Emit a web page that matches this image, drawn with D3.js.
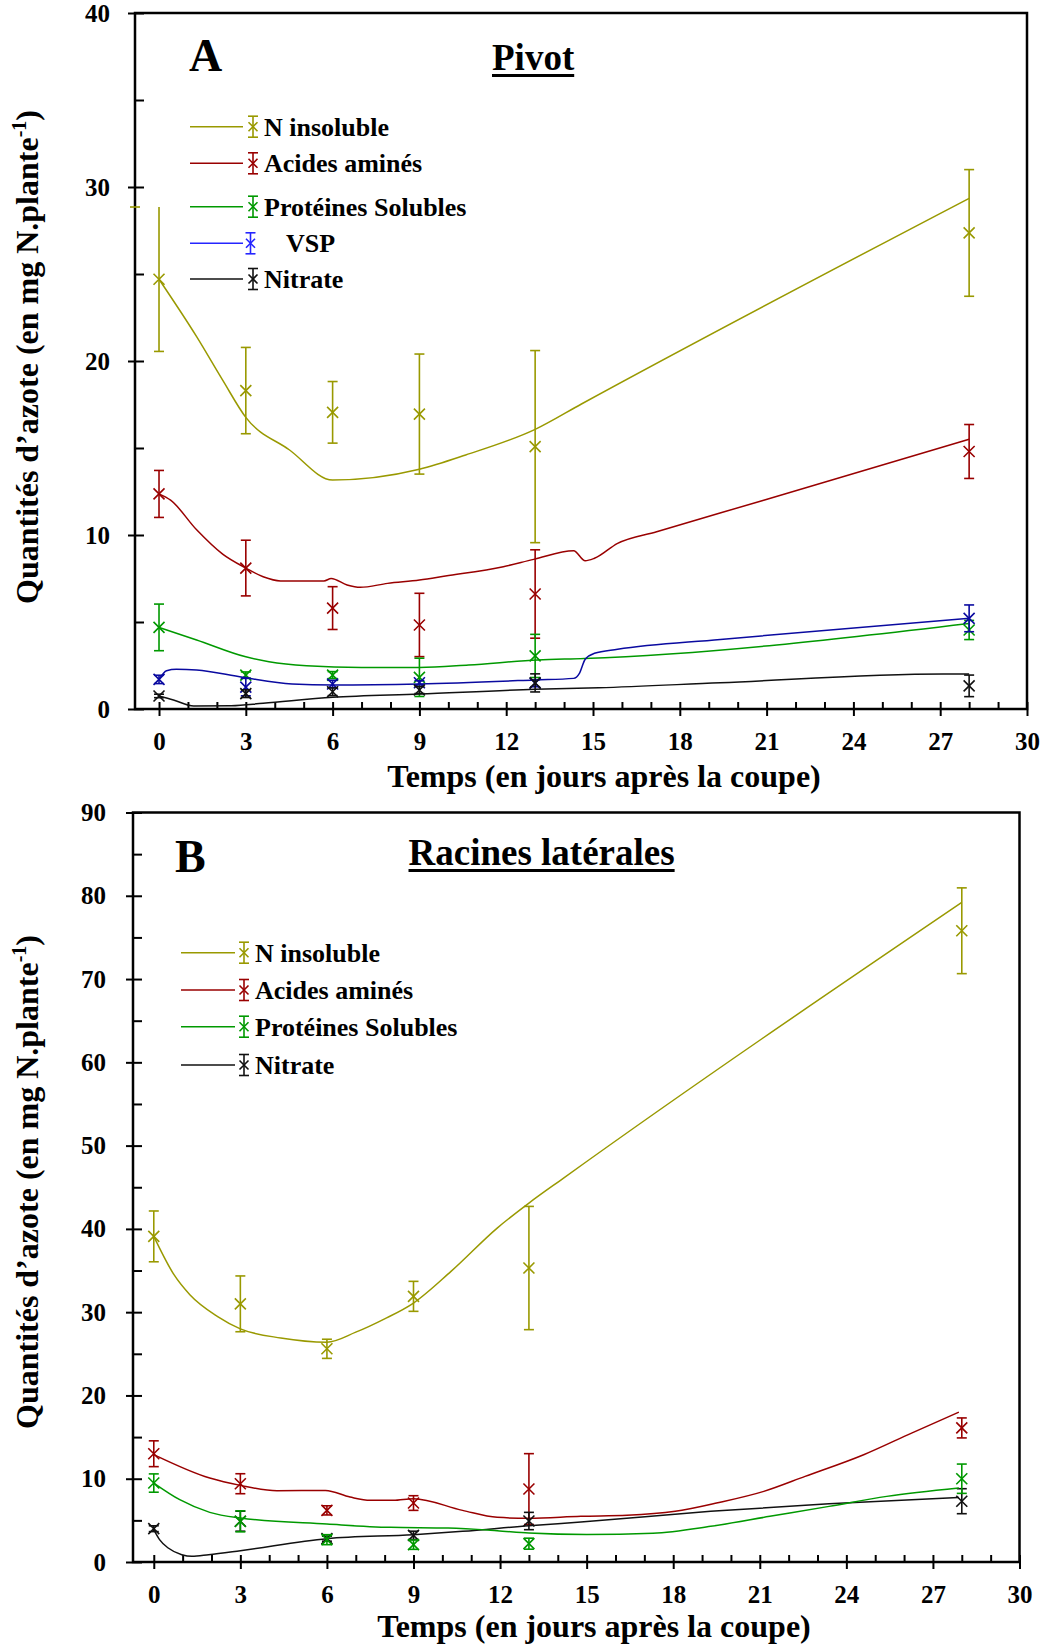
<!DOCTYPE html>
<html>
<head>
<meta charset="utf-8">
<script src="https://cdn.jsdelivr.net/npm/d3@7"></script>
<style>
  body { margin: 0; background: #fff; }
  svg text { font-family: "Liberation Serif", "Times New Roman", serif; font-weight: bold; fill: #000; }
</style>
</head>
<body>
<svg id="chart" width="1046" height="1645"></svg>
<script>
// Sampling days (jours après la coupe)
const days = [0, 3, 6, 9, 13, 28];
const xMajorTicks = [0, 3, 6, 9, 12, 15, 18, 21, 24, 27, 30];

// ---- Panel A : Pivot (mg N / plante) ----
const pivotNInsoluble      = [24.7, 18.3, 17.05, 16.95, 15.08, 27.36];
const pivotNInsolubleErr   = [4.15, 2.48, 1.77, 3.45, 5.52, 3.64];
const pivotAcides          = [12.36, 8.1, 5.8, 4.83, 6.61, 14.8];
const pivotAcidesErr       = [1.35, 1.6, 1.23, 1.82, 2.54, 1.55];
const pivotProteines       = [4.69, 1.95, 1.95, 1.82, 3.05, 4.54];
const pivotProteinesErr    = [1.34, 0.18, 0.2, 1.1, 1.24, 0.55];
const pivotVSP             = [1.7, 1.26, 1.44, 1.51, 1.48, 5.21];
const pivotVSPErr          = [0.24, 0.5, 0.21, 0.12, 0.2, 0.77];
const pivotNitrate         = [0.75, 0.88, 0.99, 1.09, 1.5, 1.33];
const pivotNitrateErr      = [0.1, 0.22, 0.22, 0.2, 0.52, 0.62];

// Fitted curves, Pivot ([jour, valeur])
const pivotNInsolubleFit = [[0,24.7],[1.3,21.4],[2.2,18.9],[3,16.76],[4.5,14.9],[6,13.16],[9,13.78],[10.6,14.6],[13,16.07],[14.6,17.53],[28,29.35]];
const pivotAcidesFit = [[0,12.36],[0.4,12.0],[1.3,10.3],[2.2,8.9],[3,8.1],[3.6,7.6],[4.2,7.36],[5.7,7.36],[5.95,7.5],[6.5,7.13],[6.95,6.99],[7.9,7.22],[9,7.41],[9.9,7.64],[11.9,8.18],[12.95,8.6],[14.33,9.1],[14.73,8.52],[15.05,8.66],[15.85,9.52],[17.2,10.19],[20.9,12.0],[28,15.5]];
const pivotProteinesFit = [[0,4.69],[1.3,3.97],[3,3.0],[3.8,2.72],[5.1,2.49],[7,2.39],[9,2.39],[10.7,2.53],[13.1,2.82],[14.7,2.9],[28,4.92]];
const pivotVSPFit = [[0,1.7],[0.26,2.2],[0.6,2.28],[1.3,2.24],[2.9,1.82],[4.6,1.44],[6,1.38],[9,1.44],[13,1.67],[14.33,1.76],[14.53,2.05],[14.73,2.86],[15.05,3.2],[15.85,3.43],[19.4,4.0],[28,5.21]];
const pivotNitrateFit = [[0,0.75],[0.5,0.52],[1.2,0.17],[2.5,0.19],[3.6,0.33],[6,0.67],[9,0.86],[13,1.13],[15.2,1.22],[19.4,1.51],[27.1,2.01],[28,2.01]];

// ---- Panel B : Racines latérales (mg N / plante) ----
const racNInsoluble      = [39.1, 31.0, 25.6, 31.9, 35.3, 75.8];
const racNInsolubleErr   = [3.05, 3.35, 1.15, 1.8, 7.4, 5.15];
const racAcides          = [13.0, 9.4, 6.2, 7.08, 8.76, 16.1];
const racAcidesErr       = [1.55, 1.2, 0.55, 0.88, 4.25, 1.2];
const racProteines       = [9.48, 4.88, 2.68, 2.08, 2.2, 10.0];
const racProteinesErr    = [1.1, 1.26, 0.6, 0.56, 0.66, 1.76];
const racNitrate         = [4.0, 4.9, 2.8, 3.2, 4.92, 7.3];
const racNitrateErr      = [0.35, 1.2, 0.3, 0.5, 1.04, 1.5];

const racNInsolubleFit = [[0,39.1],[0.7,34.5],[1.25,32.1],[2.2,29.5],[3,28.0],[4.4,26.9],[6,26.4],[7,27.6],[8,29.2],[9,31.1],[10.3,34.9],[11.9,40.1],[13,43.1],[14.2,46.1],[28,79.2]];
const racAcidesFit = [[0,12.9],[1.94,10.08],[3,9.2],[4.27,8.56],[5.95,8.6],[6.8,7.8],[7.5,7.4],[8.3,7.4],[9,7.6],[10.7,6.2],[11.9,5.36],[13,5.24],[14.8,5.48],[16.4,5.6],[18.07,6.08],[19.5,7.08],[21.14,8.48],[22.57,10.28],[24.6,12.88],[26.26,15.48],[27.9,18.0]];
const racProteinesFit = [[0,9.48],[0.9,7.48],[1.94,5.96],[3,5.28],[6,4.56],[8.2,4.16],[10.2,4.08],[11.9,3.76],[13,3.48],[15,3.3],[17.3,3.45],[19.3,4.28],[21.35,5.48],[23.4,6.68],[25.4,7.88],[27.9,8.88]];
const racNitrateFit = [[0,3.88],[0.2,2.68],[0.5,1.68],[0.97,0.88],[1.32,0.68],[1.9,0.88],[3,1.36],[6,2.8],[9,3.28],[10.7,3.68],[13,4.36],[14.8,4.8],[19.3,6.08],[23.4,7.0],[27.9,7.76]];

const COL = { olive: "#999900", red: "#990000", green: "#009900", blue: "#0a0aa0", blueKey: "#2525ff", black: "#111111" };

const svg = d3.select("#chart");

function styleAxis(sel, size) {
  sel.attr("font-family", null).attr("font-size", null);
  sel.selectAll("line").attr("stroke", "#000").attr("stroke-width", 2);
  sel.selectAll("text").style("font-size", size + "px");
  sel.select(".domain").remove();
}

function drawPanel(cfg) {
  const g = svg.append("g");
  const x = d3.scaleLinear().domain([cfg.xMin, 30]).range([cfg.left, cfg.right]);
  const y = d3.scaleLinear().domain([0, cfg.yMax]).range([cfg.bottom, cfg.top]);

  // minor ticks, pointing inward
  g.append("g").attr("transform", `translate(0,${cfg.bottom})`)
    .call(d3.axisTop(x).tickValues(d3.range(0, 31, 1)).tickSize(7).tickFormat(""))
    .call(s => styleAxis(s, 25));
  g.append("g").attr("transform", `translate(${cfg.left},0)`)
    .call(d3.axisRight(y).tickValues(d3.range(0, cfg.yMax + 1, 5)).tickSize(9).tickFormat(""))
    .call(s => styleAxis(s, 25));
  // major ticks crossing the axes, with labels
  g.append("g").attr("transform", `translate(0,${cfg.bottom})`)
    .call(d3.axisBottom(x).tickValues(xMajorTicks).tickSize(7).tickPadding(16).tickFormat(d3.format("d")))
    .call(s => styleAxis(s, 25));
  g.append("g").attr("transform", `translate(${cfg.left},0)`)
    .call(d3.axisLeft(y).tickValues(d3.range(0, cfg.yMax + 1, 10)).tickSize(7).tickPadding(cfg.yPad).tickFormat(d3.format("d")))
    .call(s => styleAxis(s, 25));

  // frame
  g.append("rect")
    .attr("x", cfg.left).attr("y", cfg.top)
    .attr("width", cfg.right - cfg.left).attr("height", cfg.bottom - cfg.top)
    .attr("fill", "none").attr("stroke", "#000").attr("stroke-width", 2.5);

  const line = d3.line().x(d => x(d[0])).y(d => y(d[1])).curve(d3.curveMonotoneX);

  cfg.series.forEach(s => {
    const sg = g.append("g");
    sg.append("path").datum(s.fit)
      .attr("d", line).attr("fill", "none")
      .attr("stroke", s.color).attr("stroke-width", 1.5);
    const pts = days.map((d, i) => ({ d, v: s.values[i], e: s.err[i] }));
    const eb = sg.selectAll(".eb").data(pts).join("g")
      .attr("stroke", s.color).attr("stroke-width", 1.6).attr("fill", "none");
    eb.append("line")
      .attr("x1", p => x(p.d)).attr("x2", p => x(p.d))
      .attr("y1", p => y(p.v - p.e)).attr("y2", p => y(p.v + p.e));
    eb.append("line")
      .attr("x1", p => x(p.d) - 5).attr("x2", p => x(p.d) + 5)
      .attr("y1", p => y(p.v - p.e)).attr("y2", p => y(p.v - p.e));
    eb.append("line")
      .attr("x1", (p, i) => (s.capAtAxis === i ? cfg.left - 5 : x(p.d) - 5))
      .attr("x2", (p, i) => (s.capAtAxis === i ? cfg.left + 5 : x(p.d) + 5))
      .attr("y1", p => y(p.v + p.e)).attr("y2", p => y(p.v + p.e));
    // cross markers
    eb.append("path")
      .attr("d", p => {
        const cx = x(p.d), cy = y(p.v), r = 5.5;
        return `M${cx - r},${cy - r}L${cx + r},${cy + r}M${cx - r},${cy + r}L${cx + r},${cy - r}`;
      });
  });

  // legend
  const lg = g.append("g");
  cfg.series.forEach((s, i) => {
    const cy = cfg.legend.rows[i];
    lg.append("line")
      .attr("x1", cfg.legend.x0).attr("x2", cfg.legend.x1)
      .attr("y1", cy).attr("y2", cy)
      .attr("stroke", s.keyColor || s.color).attr("stroke-width", 1.5);
    const mx = cfg.legend.mx + (s.keyShift || 0);
    const kc = s.keyColor || s.color;
    const k = lg.append("g").attr("stroke", kc).attr("stroke-width", 1.6).attr("fill", "none");
    k.append("line").attr("x1", mx).attr("x2", mx).attr("y1", cy - 10.5).attr("y2", cy + 10.5);
    k.append("line").attr("x1", mx - 5).attr("x2", mx + 5).attr("y1", cy - 10.5).attr("y2", cy - 10.5);
    k.append("line").attr("x1", mx - 5).attr("x2", mx + 5).attr("y1", cy + 10.5).attr("y2", cy + 10.5);
    k.append("path").attr("d", `M${mx - 4.5},${cy - 4.5}L${mx + 4.5},${cy + 4.5}M${mx - 4.5},${cy + 4.5}L${mx + 4.5},${cy - 4.5}`);
    lg.append("text")
      .attr("x", cfg.legend.tx + (s.textShift || 0)).attr("y", cy + 9)
      .style("font-size", "26px")
      .text(s.name);
  });

  // panel letter and underlined title
  g.append("text").attr("x", cfg.letter.x).attr("y", cfg.letter.y)
    .style("font-size", "46px").text(cfg.letter.text);
  const t = g.append("text").attr("x", cfg.title.x).attr("y", cfg.title.y)
    .style("font-size", cfg.title.size + "px").text(cfg.title.text);
  const tw = t.node().getComputedTextLength();
  g.append("line")
    .attr("x1", cfg.title.x).attr("x2", cfg.title.x + tw)
    .attr("y1", cfg.title.y + 5.5).attr("y2", cfg.title.y + 5.5)
    .attr("stroke", "#000").attr("stroke-width", 3);

  // axis titles
  g.append("text")
    .attr("x", cfg.xTitle.x).attr("y", cfg.xTitle.y)
    .attr("text-anchor", "middle").style("font-size", "32px")
    .text("Temps (en jours après la coupe)");
  const yt = g.append("text")
    .attr("transform", `translate(${cfg.yTitle.x},${cfg.yTitle.y}) rotate(-90)`)
    .attr("text-anchor", "middle").style("font-size", "32px");
  yt.append("tspan").text("Quantités d’azote (en mg N.plante");
  yt.append("tspan").attr("dy", -12).style("font-size", "20px").text("-1");
  yt.append("tspan").attr("dy", 12).text(")");
}

drawPanel({
  left: 135, right: 1027, top: 13, bottom: 709, xMin: -0.83, yMax: 40, yPad: 18,
  series: [
    { name: "N insoluble", color: COL.olive, values: pivotNInsoluble, err: pivotNInsolubleErr, fit: pivotNInsolubleFit, capAtAxis: 0 },
    { name: "Acides aminés", color: COL.red, values: pivotAcides, err: pivotAcidesErr, fit: pivotAcidesFit },
    { name: "Protéines Solubles", color: COL.green, values: pivotProteines, err: pivotProteinesErr, fit: pivotProteinesFit },
    { name: "VSP", color: COL.blue, keyColor: COL.blueKey, values: pivotVSP, err: pivotVSPErr, fit: pivotVSPFit, keyShift: -2.5, textShift: 22 },
    { name: "Nitrate", color: COL.black, values: pivotNitrate, err: pivotNitrateErr, fit: pivotNitrateFit }
  ],
  legend: { x0: 190, x1: 243, mx: 253, tx: 264, rows: [126.7, 163.3, 206.7, 243.3, 279] },
  letter: { x: 189, y: 70.5, text: "A" },
  title: { x: 492, y: 70, size: 37, text: "Pivot" },
  xTitle: { x: 604, y: 787 },
  yTitle: { x: 38, y: 357 }
});

drawPanel({
  left: 133, right: 1019.5, top: 812.5, bottom: 1562, xMin: -0.72, yMax: 90, yPad: 20,
  series: [
    { name: "N insoluble", color: COL.olive, values: racNInsoluble, err: racNInsolubleErr, fit: racNInsolubleFit },
    { name: "Acides aminés", color: COL.red, values: racAcides, err: racAcidesErr, fit: racAcidesFit },
    { name: "Nitrate", color: COL.black, values: racNitrate, err: racNitrateErr, fit: racNitrateFit },
    { name: "Protéines Solubles", color: COL.green, values: racProteines, err: racProteinesErr, fit: racProteinesFit }
  ],
  legend: { x0: 181, x1: 235, mx: 244, tx: 255, rows: [952.7, 990, 1065, 1026.7] },
  letter: { x: 175, y: 872, text: "B" },
  title: { x: 408.5, y: 865, size: 37, text: "Racines latérales" },
  xTitle: { x: 594, y: 1637 },
  yTitle: { x: 38, y: 1182 }
});
</script>
</body>
</html>
